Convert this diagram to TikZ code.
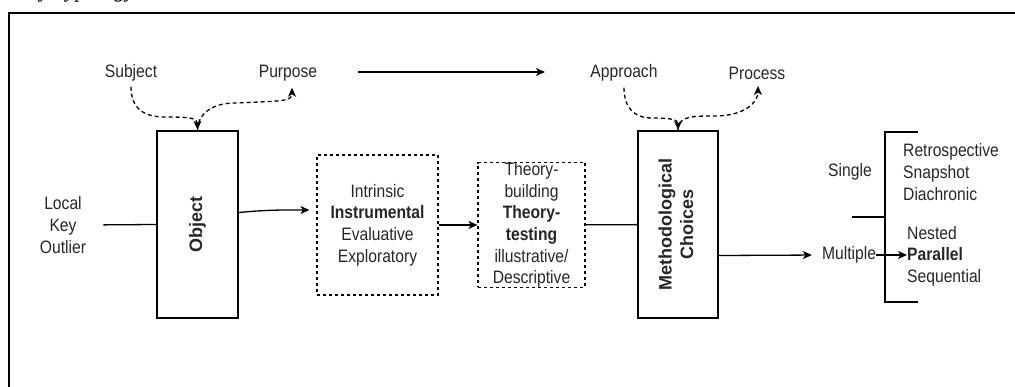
\documentclass[tikz,border=0pt]{standalone}
\usepackage{fontspec}
\usepackage{graphicx}
\setmainfont[FakeStretch=0.87]{Liberation Sans}
\newfontfamily\uprightsans{Liberation Sans}
\newfontfamily\captionserif{Liberation Serif}
\usetikzlibrary{arrows.meta, positioning}

\begin{document}
\begin{tikzpicture}[x=1pt, y=-1pt, font=\fontsize{18}{21.6}\selectfont,
	every node/.style = {inner sep=0pt, text=black!85},
	main/.style = {draw=black, line width=2.3pt, minimum width=81pt, minimum height=187pt},
	dbox/.style = {draw=black, line width=1.2pt, dash pattern=on 3pt off 3pt, align=center},
	conn/.style = {line width=1.3pt},
	dcurve/.style = {line width=1.3pt, dash pattern=on 4pt off 3pt},
	brack/.style = {line width=2.3pt},
	>={Stealth[length=9pt, width=8pt, inset=2.5pt]}]
	\useasboundingbox (0,0) rectangle (1015,387);

	% caption (cut off at the top)
	\node[anchor=base west, font=\captionserif\itshape\fontsize{22}{26}\selectfont, text=black] (cap) at (0.6,-2) {Study Typology};
	\draw[line width=1.3pt] (9,387) -- (9,13) -- (1015,13);

	% top labels
	\node (subj) at (131,73) {Subject};
	\node (purp) at (288,73) {Purpose};
	\node (appr) at (624,73) {Approach};
	\node (proc) at (757,73) {Process};
	\coordinate (flowA) at (358,72);
	\coordinate (flowB) at (545,72);

	% main row
	\node[align=center] (case) at (63,225) {Local\\Key\\Outlier};
	\node[main] (obj) at (197.5,224.5) {\rotatebox{90}{\uprightsans\bfseries Object}};
	\node[dbox, minimum width=121pt, minimum height=140pt] (intr) at (377.5,225)
		{Intrinsic\\\textbf{Instrumental}\\Evaluative\\Exploratory};
	\node[dbox, minimum width=107pt, minimum height=123pt] (theo) at (531.5,225)
		{Theory-\\building\\\textbf{Theory-}\\\textbf{testing}\\illustrative/\\Descriptive};
	\node[main, minimum width=80pt] (meth) at (678,224.5)
		{\rotatebox{90}{\uprightsans\bfseries\begin{tabular}{@{}c@{}}Methodological\\Choices\end{tabular}}};

	% right part
	\node (sing) at (850,172) {Single};
	\node (mult) at (849,255) {Multiple};
	\node[anchor=west, align=left] (sglt) at (903,172) {Retrospective\\Snapshot\\Diachronic};
	\node[anchor=west, align=left] (mltt) at (907,256) {Nested\\\textbf{Parallel}\\Sequential};
	\coordinate (brA) at (918,132);
	\coordinate (brB) at (885,132);
	\coordinate (brC) at (885,302);
	\coordinate (brD) at (918,302);
	\coordinate (brE) at (852,217);
	\coordinate (brF) at (885,217);

	% bends of the dashed curves
	\coordinate (subjBend) at (165,117);
	\coordinate (purpBend) at (235,103);
	\coordinate (apprBend) at (652,118);
	\coordinate (procBend) at (715,116);

	\draw[conn, ->] (flowA) -- (flowB);
	\draw[dcurve, ->, shorten <=5pt] (subj.south) .. controls +(0,28) and +(-20,0) .. (subjBend)
		.. controls +(25,0) and +(0,-12) .. (obj.north);
	\draw[dcurve, ->] (obj.north) .. controls +(0,-14) and +(-25,0) .. (purpBend)
		.. controls +(45,-2) and +(0,14) .. ([xshift=4pt, yshift=-6.5pt]purp.south);
	\draw[dcurve, ->, shorten <=6pt] (appr.south) .. controls +(0,26) and +(-18,0) .. (apprBend)
		.. controls +(20,0) and +(0,-10) .. (meth.north);
	\draw[dcurve, ->] (meth.north) .. controls +(0,-14) and +(-22,0) .. (procBend)
		.. controls +(30,0) and +(0,16) .. ([xshift=1pt, yshift=-6.5pt]proc.south);

	\draw[conn, shorten <=17pt] (case.east) -- (obj.west);
	\draw[conn, ->] ([yshift=12pt]obj.east) .. controls +(30,-3) and +(-20,0) .. ([yshift=15pt, xshift=-7pt]intr.west);
	\draw[conn, ->] (intr) -- (theo);
	\draw[conn] (theo) -- (meth);
	\draw[conn, ->, shorten >=10pt] ([yshift=-31pt]meth.east) -- (mult.west);
	\draw[conn, ->] (mult.east) -- (mult.east -| mltt.west);

	\draw[brack] (brA) -- (brB) -- (brC) -- (brD);
	\draw[brack] (brE) -- (brF);
\end{tikzpicture}
\end{document}
